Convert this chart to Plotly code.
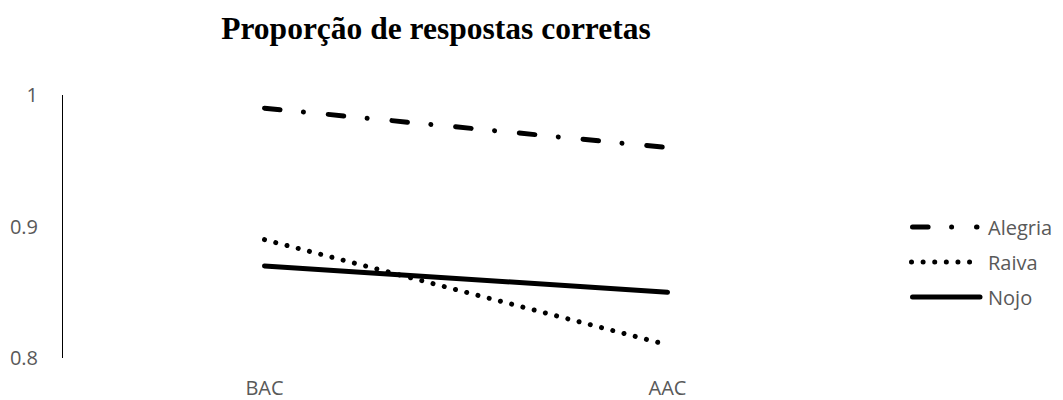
import plotly.graph_objects as go

# Conditions on the horizontal axis
conditions = ["BAC", "AAC"]

# Proportion of correct answers per emotion
series_names = ["Alegria", "Raiva", "Nojo"]
alegria = [0.99, 0.96]
raiva = [0.89, 0.81]
nojo = [0.87, 0.85]

y_ticks = [0.8, 0.9, 1.0]
y_tick_text = ["0.8", "0.9", "1"]

TEXT_GREY = "#595959"
FONT = "Open Sans"
W, H = 1063, 400
M_L, M_R, M_T, M_B = 63, 194, 95, 42
PLOT_W = W - M_L - M_R
PLOT_H = H - M_T - M_B

# Dash patterns assume round line caps (set in the page style below)
DASHES = {
    "Alegria": "15.6px,23.5px,0.01px,24.9px",
    "Raiva": "0.01px,11.6px",
    "Nojo": "solid",
}
LINE_W = 5

fig = go.Figure()
for name, values in zip(series_names, [alegria, raiva, nojo]):
    fig.add_trace(go.Scatter(
        x=conditions, y=values, name=name, mode="lines", showlegend=False,
        line=dict(color="black", width=LINE_W, dash=DASHES[name]),
    ))


def paper_x(px):
    return (px - M_L) / PLOT_W


def paper_y(py):
    return (H - M_B - py) / PLOT_H


# Legend drawn to the right of the plot: long line samples with labels
legend_rows = [227, 262, 297]
legend_spans = {"Alegria": (912.5, 977.0), "Raiva": (911.5, 970.0), "Nojo": (912.5, 980.0)}
shapes, annotations = [], []
for name, row in zip(series_names, legend_rows):
    x0, x1 = legend_spans[name]
    shapes.append(dict(
        type="line", xref="paper", yref="paper",
        x0=paper_x(x0), x1=paper_x(x1), y0=paper_y(row), y1=paper_y(row),
        line=dict(color="black", width=LINE_W, dash=DASHES[name]),
    ))
    annotations.append(dict(
        text=name, xref="paper", yref="paper",
        x=paper_x(986), y=paper_y(row), xanchor="left", yanchor="middle",
        showarrow=False, font=dict(family=FONT, size=20, color=TEXT_GREY),
    ))

fig.update_layout(
    width=W, height=H,
    margin=dict(l=M_L, r=M_R, t=M_T, b=M_B),
    paper_bgcolor="white", plot_bgcolor="white",
    font=dict(family=FONT, size=20, color=TEXT_GREY),
    title=dict(
        text="<b>Proporção de respostas corretas</b>",
        font=dict(family="Liberation Serif", size=31.5, color="black"),
        xref="container", x=436 / W, xanchor="center",
        yref="container", y=1 - 28 / H, yanchor="middle",
    ),
    showlegend=False,
    shapes=shapes,
    annotations=annotations,
    xaxis=dict(
        type="category", range=[-0.5, 1.5],
        showline=False, showgrid=False, zeroline=False,
        ticks="outside", ticklen=12, tickcolor="rgba(0,0,0,0)",
        tickfont=dict(family=FONT, size=20, color=TEXT_GREY),
        automargin=False,
    ),
    yaxis=dict(
        range=[0.8, 1.0], tickvals=y_ticks, ticktext=y_tick_text,
        showline=True, linecolor="black", linewidth=1,
        showgrid=False, zeroline=False,
        ticks="outside", ticklen=20, tickcolor="rgba(0,0,0,0)",
        tickfont=dict(family=FONT, size=20, color=TEXT_GREY),
        automargin=False,
    ),
)

# Round caps for the series lines and the legend samples
round_caps = (
    "var s=document.createElement('style');"
    "s.textContent='path.js-line, g.shapelayer path{stroke-linecap:round !important;}';"
    "document.head.appendChild(s);"
)

fig.write_html("out.html", post_script=round_caps)
